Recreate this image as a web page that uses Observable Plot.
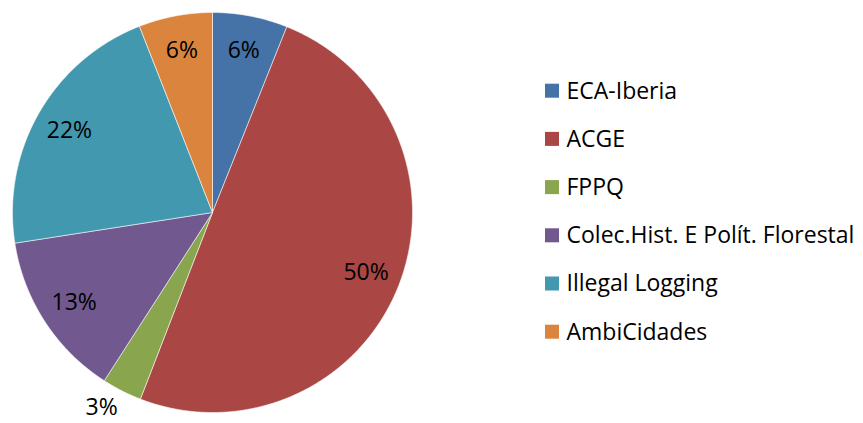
<!DOCTYPE html>
<html>
<head>
<meta charset="utf-8">
<script src="https://cdn.jsdelivr.net/npm/d3@7"></script>
<script src="https://cdn.jsdelivr.net/npm/@observablehq/plot@0.6"></script>
<style>
  html, body { margin: 0; padding: 0; background: #fff; }
  #chart svg { display: block; }
</style>
</head>
<body>
<div id="chart"></div>
<script>
// ---- data ----
const categories = ["ECA-Iberia", "ACGE", "FPPQ", "Colec.Hist. E Polít. Florestal", "Illegal Logging", "AmbiCidades"];
const values = [6.06, 49.81, 3.23, 13.45, 21.5, 5.95];
const pctLabels = ["6%", "50%", "3%", "13%", "22%", "6%"];
const colors = ["#4572A7", "#AA4643", "#89A54E", "#71588F", "#4198AF", "#DB843D"];

// ---- layout ----
const W = 863, H = 423;
const cx = 212, cy = 212, R = 200;
const labelR = 165;
const font = "'Open Sans', Carlito, Calibri, sans-serif";
const fontSize = 23;

const total = d3.sum(values);
let cum = 0;
const slices = categories.map((name, i) => {
  const a0 = cum / total * 2 * Math.PI;
  cum += values[i];
  const a1 = cum / total * 2 * Math.PI;
  return {name, i, a0, a1, mid: (a0 + a1) / 2, pct: values[i] / total};
});

// polygon points for each slice
const polyPts = [];
for (const s of slices) {
  polyPts.push({name: s.name, px: cx, py: cy});
  const n = Math.max(2, Math.ceil((s.a1 - s.a0) / 0.005));
  for (let k = 0; k <= n; k++) {
    const a = s.a0 + (s.a1 - s.a0) * k / n;
    polyPts.push({name: s.name, px: cx + R * Math.sin(a), py: cy - R * Math.cos(a)});
  }
  polyPts.push({name: s.name, px: cx, py: cy});
}

// percentage labels
const labelPts = slices.map(s => {
  const inside = s.pct >= 0.05;
  const r = inside ? labelR : R + 9;
  return {
    text: pctLabels[s.i],
    inside,
    px: cx + r * Math.sin(s.mid),
    py: cy - r * Math.cos(s.mid)
  };
});

// legend
const legX = 545, legSq = 14, legY0 = 90.7, legStep = 48.2, legTextX = 566;
const legend = categories.map((name, i) => ({
  name,
  x1: legX, x2: legX + legSq,
  y1: legY0 + i * legStep - legSq / 2, y2: legY0 + i * legStep + legSq / 2,
  ty: legY0 + i * legStep
}));

const chart = Plot.plot({
  width: W, height: H,
  margin: 0,
  x: {domain: [0, W], range: [0, W], axis: null},
  y: {domain: [0, H], range: [0, H], axis: null},
  color: {domain: categories, range: colors},
  style: {fontFamily: font, background: "#fff"},
  marks: [
    Plot.line(polyPts, {x: "px", y: "py", z: "name", fill: "name", stroke: "#ffffff", strokeWidth: 0.8, strokeOpacity: 0.7, curve: "linear"}),
    Plot.text(labelPts.filter(d => d.inside), {x: "px", y: "py", text: "text", fontSize, fill: "#000", textAnchor: "middle", lineAnchor: "middle"}),
    Plot.text(labelPts.filter(d => !d.inside), {x: "px", y: "py", text: "text", fontSize, fill: "#000", textAnchor: "end", lineAnchor: "top"}),
    Plot.rect(legend, {x1: "x1", x2: "x2", y1: "y1", y2: "y2", fill: "name"}),
    Plot.text(legend, {x: legTextX, y: "ty", text: "name", fontSize, fill: "#000", textAnchor: "start", lineAnchor: "middle"})
  ]
});
document.getElementById("chart").appendChild(chart);
</script>
</body>
</html>
